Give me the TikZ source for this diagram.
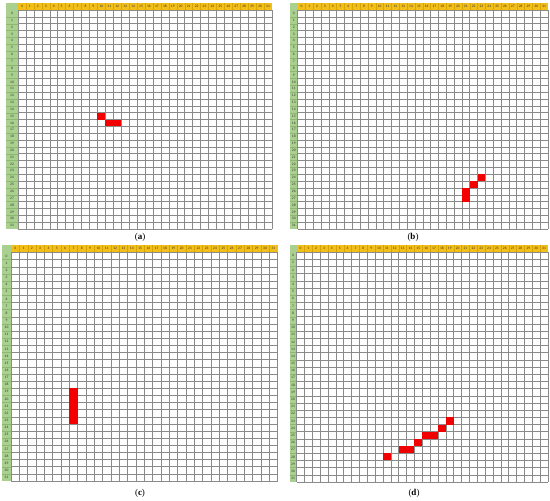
\documentclass[tikz,border=0pt]{standalone}
\usepackage{fontspec}
\setmainfont{Liberation Serif}
\newfontfamily\hdrfont{Carlito}
\definecolor{hdrY}{HTML}{F2BE1A}
\definecolor{hdrYl}{HTML}{D9A400}
\definecolor{hdrG}{HTML}{A9D08E}
\definecolor{hdrGl}{HTML}{8DB870}
\definecolor{gridc}{HTML}{8A8A8A}
\definecolor{redc}{HTML}{F20000}
\tikzset{
  gridln/.style={draw=gridc,line width=0.45pt},
  hdrln/.style={draw=hdrYl,line width=0.3pt},
  hdrgln/.style={draw=hdrGl,line width=0.3pt},
  hnum/.style={inner sep=0pt,font=\hdrfont\fontsize{3.6}{4}\selectfont,text=black!80},
  captxt/.style={inner sep=0pt,font=\fontsize{9}{10}\selectfont},
  redcell/.style={fill=redc},
}
% #1 L, #2 X0, #3 X1, #4 T, #5 Y0, #6 Y1
\newcommand\mypanel[6]{%
  \pgfmathsetmacro\cw{(#3-#2)/32}%
  \pgfmathsetmacro\ch{(#6-#5)/32}%
  \fill[hdrY] (#2,#4) rectangle (#3,#5);
  \fill[hdrG] (#1,#4) rectangle (#2,#6);
  \foreach \i in {1,...,31} {\draw[hdrln] ({#2+\i*\cw},#4) -- ({#2+\i*\cw},#5);}
  \foreach \i in {1,...,31} {\draw[hdrgln] (#1,{#5+\i*\ch}) -- (#2,{#5+\i*\ch});}
  \foreach \i in {0,...,32} {\draw[gridln] ({#2+\i*\cw},#5) -- ({#2+\i*\cw},#6);}
  \foreach \i in {0,...,32} {\draw[gridln] (#2,{#5+\i*\ch}) -- (#3,{#5+\i*\ch});}
  \foreach \i in {0,...,31} {\node[hnum] at ({#2+(\i+0.5)*\cw},{(#4+#5)/2}) {\i};}
  \foreach \i in {0,...,31} {\node[hnum] at ({(#1+#2)/2},{#5+(\i+0.5)*\ch}) {\i};}
}
% #1 X0 #2 X1 #3 Y0 #4 Y1 #5 col #6 row
\newcommand\redat[6]{%
  \pgfmathsetmacro\cw{(#2-#1)/32}%
  \pgfmathsetmacro\ch{(#4-#3)/32}%
  \fill[redcell] ({#1+#5*\cw},{#3+#6*\ch}) rectangle ({#1+(#5+1)*\cw},{#3+(#6+1)*\ch});
}
\begin{document}
\begin{tikzpicture}[x=1pt,y=-1pt]
\useasboundingbox[fill=white] (0,0) rectangle (550,501);
% (a)
\mypanel{6}{18}{272}{3}{10}{229}
\foreach \c/\r in {10/15,11/16,12/16} {\redat{18}{272}{10}{229}{\c}{\r}}
\node[captxt] (la) at (140,237) {(\textbf{a})};
% (b)
\mypanel{290}{297.5}{548}{3}{10}{229}
\foreach \c/\r in {23/24,22/25,21/26,21/27} {\redat{297.5}{548}{10}{229}{\c}{\r}}
\node[captxt] (lb) at (413,237) {(\textbf{b})};
% (c)
\mypanel{2}{11}{277.5}{245}{252.5}{481}
\foreach \c/\r in {7/19,7/20,7/21,7/22,7/23} {\redat{11}{277.5}{252.5}{481}{\c}{\r}}
\node[captxt] (lc) at (140,493) {(\textbf{c})};
% (d)
\mypanel{289.5}{296.5}{548}{244.5}{252}{482}
\foreach \c/\r in {11/28,13/27,14/27,15/26,16/25,17/25,18/24,19/23} {\redat{296.5}{548}{252}{482}{\c}{\r}}
\node[captxt] (ld) at (414,493) {(\textbf{d})};
\end{tikzpicture}
\end{document}
